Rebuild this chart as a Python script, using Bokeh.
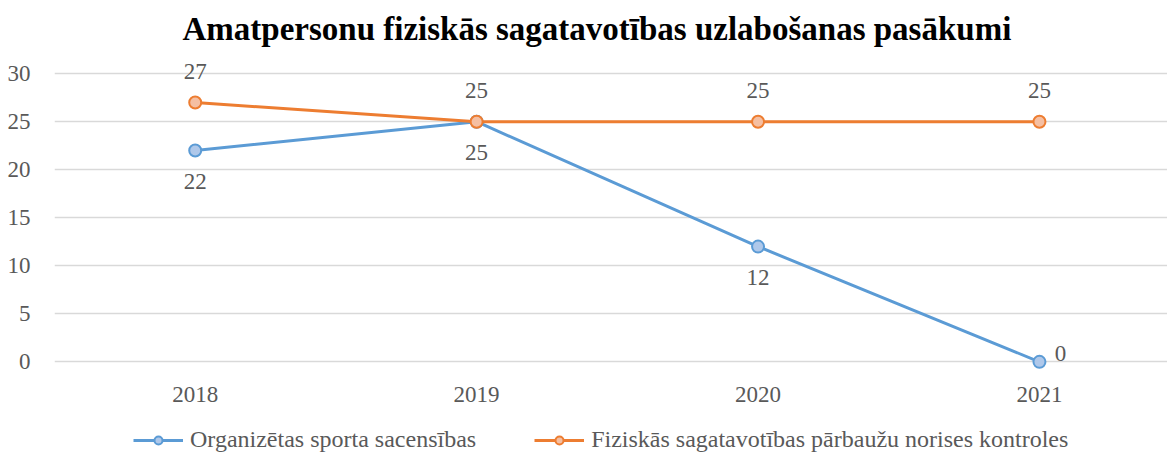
from bokeh.plotting import figure
from bokeh.layouts import column
from bokeh.models import Range1d, FixedTicker, Legend, LegendItem, ColumnDataSource
from bokeh.embed import file_html
from bokeh.resources import INLINE
from bokeh.core.properties import value

years = ["2018", "2019", "2020", "2021"]
sport = [22, 25, 12, 0]
checks = [27, 25, 25, 25]
title_text = "Amatpersonu fiziskās sagatavotības uzlabošanas pasākumi"
name_sport = "Organizētas sporta sacensības"
name_checks = "Fiziskās sagatavotības pārbaužu norises kontroles"

FONT = "Liberation Serif"
GREY = "#595959"
BLUE = "#5B9BD5"
BLUE_FILL = "#AFC8EA"
ORANGE = "#ED7D31"
ORANGE_FILL = "#F5BFA2"

xs = list(range(len(years)))

p = figure(width=1167, height=415, output_backend="svg", toolbar_location=None,
           x_range=Range1d(-0.5, 3.455), y_range=Range1d(-0.9, 32),
           min_border_left=54, min_border_right=0, min_border_top=53, min_border_bottom=45)
p.outline_line_color = None
p.background_fill_color = "white"

p.title.text = title_text
p.title.align = "left"
p.title.offset = 128
p.title.text_font = FONT
p.title.text_font_size = "33px"
p.title.text_font_style = "bold"
p.title.text_color = "black"
p.title.standoff = 16

p.xgrid.grid_line_color = None
p.ygrid.grid_line_color = "#D9D9D9"
p.ygrid.grid_line_width = 1.5
p.yaxis.ticker = FixedTicker(ticks=[0, 5, 10, 15, 20, 25, 30])
p.xaxis.ticker = FixedTicker(ticks=xs)
p.xaxis.major_label_overrides = {i: y for i, y in enumerate(years)}

for ax in (p.xaxis, p.yaxis):
    ax.axis_line_color = None
    ax.major_tick_line_color = None
    ax.minor_tick_line_color = None
    ax.major_label_text_font = FONT
    ax.major_label_text_font_size = "23px"
    ax.major_label_text_color = GREY
p.yaxis.major_label_standoff = 18
p.xaxis.major_label_standoff = 10

src1 = ColumnDataSource(dict(x=xs, y=sport, t=[str(v) for v in sport]))
src2 = ColumnDataSource(dict(x=xs, y=checks, t=[str(v) for v in checks]))

line_kw1 = dict(line_color=BLUE, line_width=3)
mark_kw1 = dict(size=12, fill_color=BLUE_FILL, line_color=BLUE, line_width=2)
line_kw2 = dict(line_color=ORANGE, line_width=3)
mark_kw2 = dict(size=12, fill_color=ORANGE_FILL, line_color=ORANGE, line_width=2)

p.line("x", "y", source=src1, **line_kw1)
p.scatter("x", "y", source=src1, **mark_kw1)
p.line("x", "y", source=src2, **line_kw2)
p.scatter("x", "y", source=src2, **mark_kw2)

lbl = dict(text_align="center", text_baseline="middle", text_font=value(FONT),
           text_font_size="23px", text_color=GREY)
n = len(xs)
below = ColumnDataSource(dict(x=xs[:n - 1], y=sport[:n - 1], t=[str(v) for v in sport[:n - 1]]))
p.text("x", "y", text="t", source=below, y_offset=31, **lbl)
last = ColumnDataSource(dict(x=xs[n - 1:], y=sport[n - 1:], t=[str(v) for v in sport[n - 1:]]))
p.text("x", "y", text="t", source=last, x_offset=21, y_offset=-8, **lbl)
p.text("x", "y", text="t", source=src2, y_offset=-31, **lbl)

# legend strip below the chart (placeholder renderers hold a single NaN point)
lg = figure(width=1167, height=38, output_backend="svg", toolbar_location=None,
            x_range=Range1d(0, 1), y_range=Range1d(0, 1),
            x_axis_location=None, y_axis_location=None,
            min_border_left=0, min_border_right=0, min_border_top=0, min_border_bottom=0)
lg.outline_line_color = None
lg.grid.visible = False
nan = float("nan")
placeholder = dict(x=[nan], y=[nan])
r1 = [lg.line("x", "y", source=ColumnDataSource(placeholder), **line_kw1),
      lg.scatter("x", "y", source=ColumnDataSource(placeholder), **mark_kw1)]
r2 = [lg.line("x", "y", source=ColumnDataSource(placeholder), **line_kw2),
      lg.scatter("x", "y", source=ColumnDataSource(placeholder), **mark_kw2)]
legend = Legend(items=[LegendItem(label=name_sport, renderers=r1),
                       LegendItem(label=name_checks, renderers=r2)],
                orientation="horizontal", location=(79, 0),
                label_text_font=FONT, label_text_font_size="24px", label_text_color=GREY,
                glyph_width=50, spacing=58, label_standoff=7, padding=0, margin=0,
                border_line_color=None, background_fill_alpha=0)
lg.add_layout(legend)

open("out.html", "w").write(file_html(column(p, lg, spacing=0), INLINE))
